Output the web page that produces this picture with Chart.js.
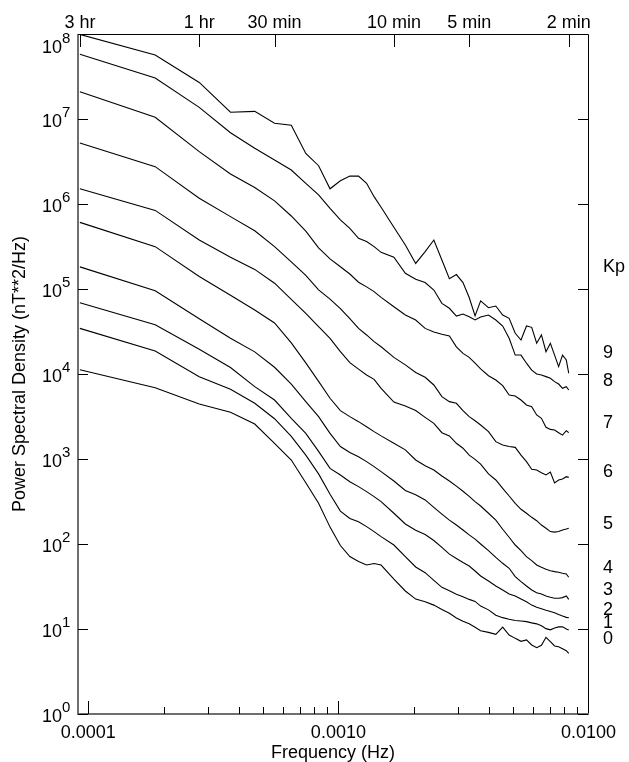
<!DOCTYPE html>
<html>
<head>
<meta charset="utf-8">
<title>Power spectra by Kp</title>
<script src="https://cdn.jsdelivr.net/npm/chart.js@4.4.1/dist/chart.umd.min.js"></script>
<style>
html, body { margin: 0; padding: 0; background: #fff; }
#wrap { width: 629px; height: 762px; }
</style>
</head>
<body>
<div id="wrap"><canvas id="psdChart" width="629" height="762"></canvas></div>
<script>
// spectra are taken over 3 hour records, so every point sits on a harmonic of 1/10800 Hz
const recordSeconds = 10800;
const harmonics = [1, 2, 3, 4, 5, 6, 7, 8, 9, 10, 11, 12, 13, 14, 15, 16, 18, 20, 22, 24, 26, 28, 30, 32, 34, 36, 38, 40,
  43, 46, 49, 52, 55, 58, 61, 64, 67, 70, 73, 76, 79, 82, 85, 88, 90];

// power spectral density, nT**2/Hz, one list per Kp level
const kp9 = [9.9e7, 5.66e7, 2.69e7, 1.2e7, 1.23e7, 8.9e6, 8.43e6, 3.94e6, 2.82e6, 1.51e6,
  1.88e6, 2.13e6, 2.13e6, 1.75e6, 1.22e6, 9.14e5, 5.32e5, 3.3e5, 2.0e5, 2.75e5,
  3.77e5, 2.19e5, 1.32e5, 1.48e5, 1.19e5, 7.94e4, 4.83e4, 7.24e4, 6.03e4, 6.31e4,
  4.94e4, 4.52e4, 3.01e4, 2.51e4, 3.67e4, 3.54e4, 2.3e4, 2.88e4, 1.83e4, 2.3e4,
  1.67e4, 1.22e4, 1.67e4, 1.46e4, 1.02e4];
const kp8 = [5.77e7, 3.03e7, 1.37e7, 6.9e6, 4.52e6, 3.3e6, 2.51e6, 1.75e6, 1.28e6, 8.89e5,
  6.49e5, 5.18e5, 3.94e5, 3.61e5, 3.15e5, 2.7e5, 2.36e5, 1.53e5, 1.3e5, 1.19e5,
  9.72e4, 6.78e4, 5.93e4, 4.81e4, 5.08e4, 4.72e4, 4.32e4, 4.68e4, 4.94e4, 4.32e4,
  3.67e4, 2.63e4, 1.67e4, 1.67e4, 1.34e4, 1.11e4, 1.0e4, 9.73e3, 9.31e3, 8.89e3,
  8.13e3, 7.62e3, 6.78e3, 7.1e3, 6.49e3];
const kp7 = [2.09e7, 1.05e7, 4.13e6, 2.25e6, 1.56e6, 1.09e6, 7.23e5, 4.79e5, 3.05e5, 2.26e5,
  1.83e5, 1.5e5, 1.2e5, 1.06e5, 9.31e4, 7.98e4, 6.19e4, 4.94e4, 4.32e4, 3.44e4,
  3.12e4, 2.93e4, 2.8e4, 2.09e4, 1.75e4, 1.57e4, 1.34e4, 1.15e4, 9.55e3, 8.49e3,
  7.29e3, 5.66e3, 5.51e3, 4.94e3, 4.32e3, 4.13e3, 3.3e3, 3.01e3, 2.36e3, 2.23e3,
  2.19e3, 2.04e3, 1.91e3, 2.15e3, 2.04e3];
const kp6 = [5.22e6, 2.75e6, 1.17e6, 7.1e5, 4.85e5, 3.15e5, 2.09e5, 1.45e5, 9.77e4, 7.59e4,
  5.89e4, 4.47e4, 3.44e4, 2.88e4, 2.4e4, 2.09e4, 1.57e4, 1.28e4, 1.04e4, 9.14e3,
  7.43e3, 5.41e3, 4.73e3, 4.52e3, 3.71e3, 3.15e3, 2.82e3, 2.51e3, 2.1e3, 1.6e3,
  1.46e3, 1.4e3, 1.37e3, 1.11e3, 931, 757, 743, 690, 649, 703,
  522, 566, 582, 619, 608];
const kp5 = [1.51e6, 8.41e5, 3.77e5, 2.36e5, 1.7e5, 1.17e5, 7.57e4, 5.18e4, 3.61e4, 2.63e4,
  1.83e4, 1.36e4, 1.14e4, 9.73e3, 8.65e3, 6.76e3, 4.68e3, 4.21e3, 3.71e3, 3.09e3,
  2.63e3, 2.04e3, 1.87e3, 1.53e3, 1.34e3, 1.11e3, 991, 871, 667, 566,
  452, 367, 301, 256, 230, 206, 188, 167, 153, 140,
  138, 140, 146, 150, 153];
const kp4 = [6.08e5, 3.15e5, 1.4e5, 8.43e4, 5.66e4, 3.98e4, 2.32e4, 1.35e4, 8.2e3, 5.18e3,
  3.71e3, 3.15e3, 2.75e3, 2.4e3, 2.1e3, 1.87e3, 1.53e3, 1.28e3, 973, 832,
  741, 631, 550, 479, 417, 363, 315, 280, 230, 191,
  149, 120, 97.3, 83.6, 71, 63.7, 56.6, 53.1, 50.4, 48.5,
  47.3, 46.5, 45.2, 44.4, 40.6];
const kp3 = [1.82e5, 9.55e4, 4.47e4, 2.63e4, 1.82e4, 1.2e4, 7.59e3, 4.73e3, 3.15e3, 2.0e3,
  1.4e3, 1.19e3, 1.06e3, 931, 813, 710, 551, 427, 380, 330,
  270, 225, 191, 167, 146, 128, 114, 100, 83.6, 69.7,
  59.3, 51.8, 41.3, 36.1, 32.1, 28.8, 26.7, 25.8, 24.4, 23.6,
  23.0, 23.0, 23.4, 24.5, 22.3];
const kp2 = [6.9e4, 3.8e4, 1.95e4, 1.19e4, 7.1e3, 4.94e3, 3.01e3, 2.0e3, 1.23e3, 776,
  649, 541, 473, 413, 361, 315, 230, 172, 145, 129,
  110, 91.2, 75.9, 67.6, 60.5, 55.1, 48.1, 42.0, 36.7, 32.1,
  28.8, 25.8, 24.4, 22.5, 20.9, 19.1, 18.0, 17.3, 16.6, 16.1,
  15.5, 14.8, 14.2, 13.7, 13.6];
const kp1 = [3.44e4, 1.86e4, 9.29e3, 6.61e3, 4.52e3, 2.98e3, 1.85e3, 1.11e3, 668, 385,
  244, 200, 183, 160, 140, 122, 97.3, 71.0, 53.7, 46.0,
  37.4, 30.9, 28.2, 25.6, 24.0, 22.3, 21.1, 18.6, 16.8, 14.5,
  13.6, 13.0, 12.6, 12.4, 12.2, 11.8, 11.5, 10.9, 10.1, 9.77,
  10.3, 10.6, 10.6, 10.0, 9.73];
const kp0 = [1.12e4, 6.9e3, 4.44e3, 3.54e3, 2.58e3, 1.53e3, 973, 525, 301, 158,
  95.9, 71.3, 62.2, 56.6, 59.0, 56.6, 38.7, 28.0, 22.5, 20.9,
  19.1, 17.0, 15.3, 13.5, 12.3, 11.5, 10.5, 9.55, 9.12, 8.65,
  10.5, 8.49, 7.76, 7.16, 7.43, 6.49, 6.03, 6.43, 7.98, 7.1,
  6.31, 6.19, 5.86, 5.56, 5.18];

const kpLevels = [0, 1, 2, 3, 4, 5, 6, 7, 8, 9];
const spectra = [kp0, kp1, kp2, kp3, kp4, kp5, kp6, kp7, kp8, kp9];

// where the Kp numbers sit along the right edge (PSD units)
const kpLabelAt = [7.52, 11.9, 16.7, 28.8, 51.5, 172, 703, 2620, 8270, 17700];
const kpHeadingAt = 1.82e5;

// top axis: wave periods in seconds
const periodSeconds = [10800, 3600, 1800, 600, 300, 120];
const periodNames = ["3 hr", "1 hr", "30 min", "10 min", "5 min", "2 min"];

// bottom axis labels
const freqTicks = [0.0001, 0.001, 0.01];
const freqNames = ["0.0001", "0.0010", "0.0100"];

// left axis decades
const decades = [0, 1, 2, 3, 4, 5, 6, 7, 8];

const FONT = '"Liberation Sans", Arial, Helvetica, sans-serif';


// frame, inward ticks and all axis text
const axesDecor = {
  id: "axesDecor",
  afterDraw(chart) {
    const ctx = chart.ctx;
    const a = chart.chartArea;
    const x = chart.scales.x;
    const y = chart.scales.y;

    ctx.save();

    // thin black top and right edges
    ctx.strokeStyle = "#000";
    ctx.lineWidth = 1;
    ctx.beginPath();
    ctx.moveTo(a.left, a.top + 0.5);
    ctx.lineTo(a.right + 0.5, a.top + 0.5);
    ctx.lineTo(a.right + 0.5, a.bottom);
    ctx.stroke();

    // heavier grey left and bottom edges
    ctx.strokeStyle = "#6f6f6f";
    ctx.lineWidth = 2;
    ctx.beginPath();
    ctx.moveTo(a.left, a.top);
    ctx.lineTo(a.left, a.bottom);
    ctx.lineTo(a.right + 1, a.bottom);
    ctx.stroke();

    ctx.strokeStyle = "#000";
    ctx.lineWidth = 1;
    ctx.beginPath();

    // decade ticks, both sides
    decades.forEach(function (e) {
      const py = Math.round(y.getPixelForValue(Math.pow(10, e))) + 0.5;
      ctx.moveTo(a.left, py);
      ctx.lineTo(a.left + 10, py);
      ctx.moveTo(a.right, py);
      ctx.lineTo(a.right - 10, py);
    });

    // frequency ticks, long on decades
    for (let e = -5; e <= -2; e++) {
      for (let k = 1; k <= 9; k++) {
        const v = k * Math.pow(10, e);
        if (v < x.min || v > x.max) continue;
        const px = Math.round(x.getPixelForValue(v)) + 0.5;
        ctx.moveTo(px, a.bottom);
        ctx.lineTo(px, a.bottom - (k === 1 ? 13 : 7));
      }
    }

    // period ticks on top
    periodSeconds.forEach(function (p) {
      const px = Math.round(x.getPixelForValue(1 / p)) + 0.5;
      ctx.moveTo(px, a.top);
      ctx.lineTo(px, a.top + 13);
    });
    ctx.stroke();

    ctx.fillStyle = "#000";

    // period labels
    ctx.font = "18px " + FONT;
    ctx.textAlign = "center";
    ctx.textBaseline = "alphabetic";
    periodSeconds.forEach(function (p, i) {
      ctx.fillText(periodNames[i], x.getPixelForValue(1 / p), 28);
    });

    // frequency labels
    freqTicks.forEach(function (f, i) {
      ctx.fillText(freqNames[i], x.getPixelForValue(f), a.bottom + 24);
    });
    ctx.fillText("Frequency (Hz)", (a.left + a.right) / 2, a.bottom + 44);

    // powers of ten on the left
    decades.forEach(function (e) {
      const py = Math.max(y.getPixelForValue(Math.pow(10, e)), a.top + 11);
      ctx.font = "18px " + FONT;
      ctx.textAlign = "right";
      ctx.fillText("10", a.left - 16, py + 8);
      ctx.font = "15px " + FONT;
      ctx.textAlign = "left";
      ctx.fillText(String(e), a.left - 16, py - 2);
    });

    // Kp key on the right
    ctx.font = "18px " + FONT;
    ctx.textAlign = "left";
    ctx.textBaseline = "middle";
    ctx.fillText("Kp", a.right + 15, y.getPixelForValue(kpHeadingAt));
    kpLevels.forEach(function (k, i) {
      ctx.fillText(String(k), a.right + 15, y.getPixelForValue(kpLabelAt[i]));
    });

    // vertical title
    ctx.translate(25, (a.top + a.bottom) / 2);
    ctx.rotate(-Math.PI / 2);
    ctx.textAlign = "center";
    ctx.textBaseline = "alphabetic";
    ctx.font = "18px " + FONT;
    ctx.fillText("Power Spectral Density (nT**2/Hz)", 0, 0);

    ctx.restore();
  }
};


document.addEventListener("DOMContentLoaded", function () {

  const canvas = document.getElementById("psdChart");

  const datasets = spectra.map(function (vals, i) {
    return {
      label: "Kp " + kpLevels[i],
      data: vals.map(function (v, j) {
        return { x: harmonics[j] / recordSeconds, y: v };
      }),
      borderColor: "#000",
      borderWidth: 1.1,
      pointRadius: 0,
      tension: 0,
      fill: false
    };
  });

  new Chart(canvas, {
    type: "line",
    data: { datasets: datasets },
    options: {
      responsive: false,
      animation: false,
      devicePixelRatio: 1,
      layout: {
        padding: { left: 78, right: 41, top: 34, bottom: 48 }
      },
      plugins: {
        legend: { display: false },
        tooltip: { enabled: false }
      },
      scales: {
        x: { type: "logarithmic", min: 9.1e-5, max: 0.00995, display: false },
        y: { type: "logarithmic", min: 1, max: 1e8, display: false }
      }
    },
    plugins: [axesDecor]
  });

});
</script>
</body>
</html>
